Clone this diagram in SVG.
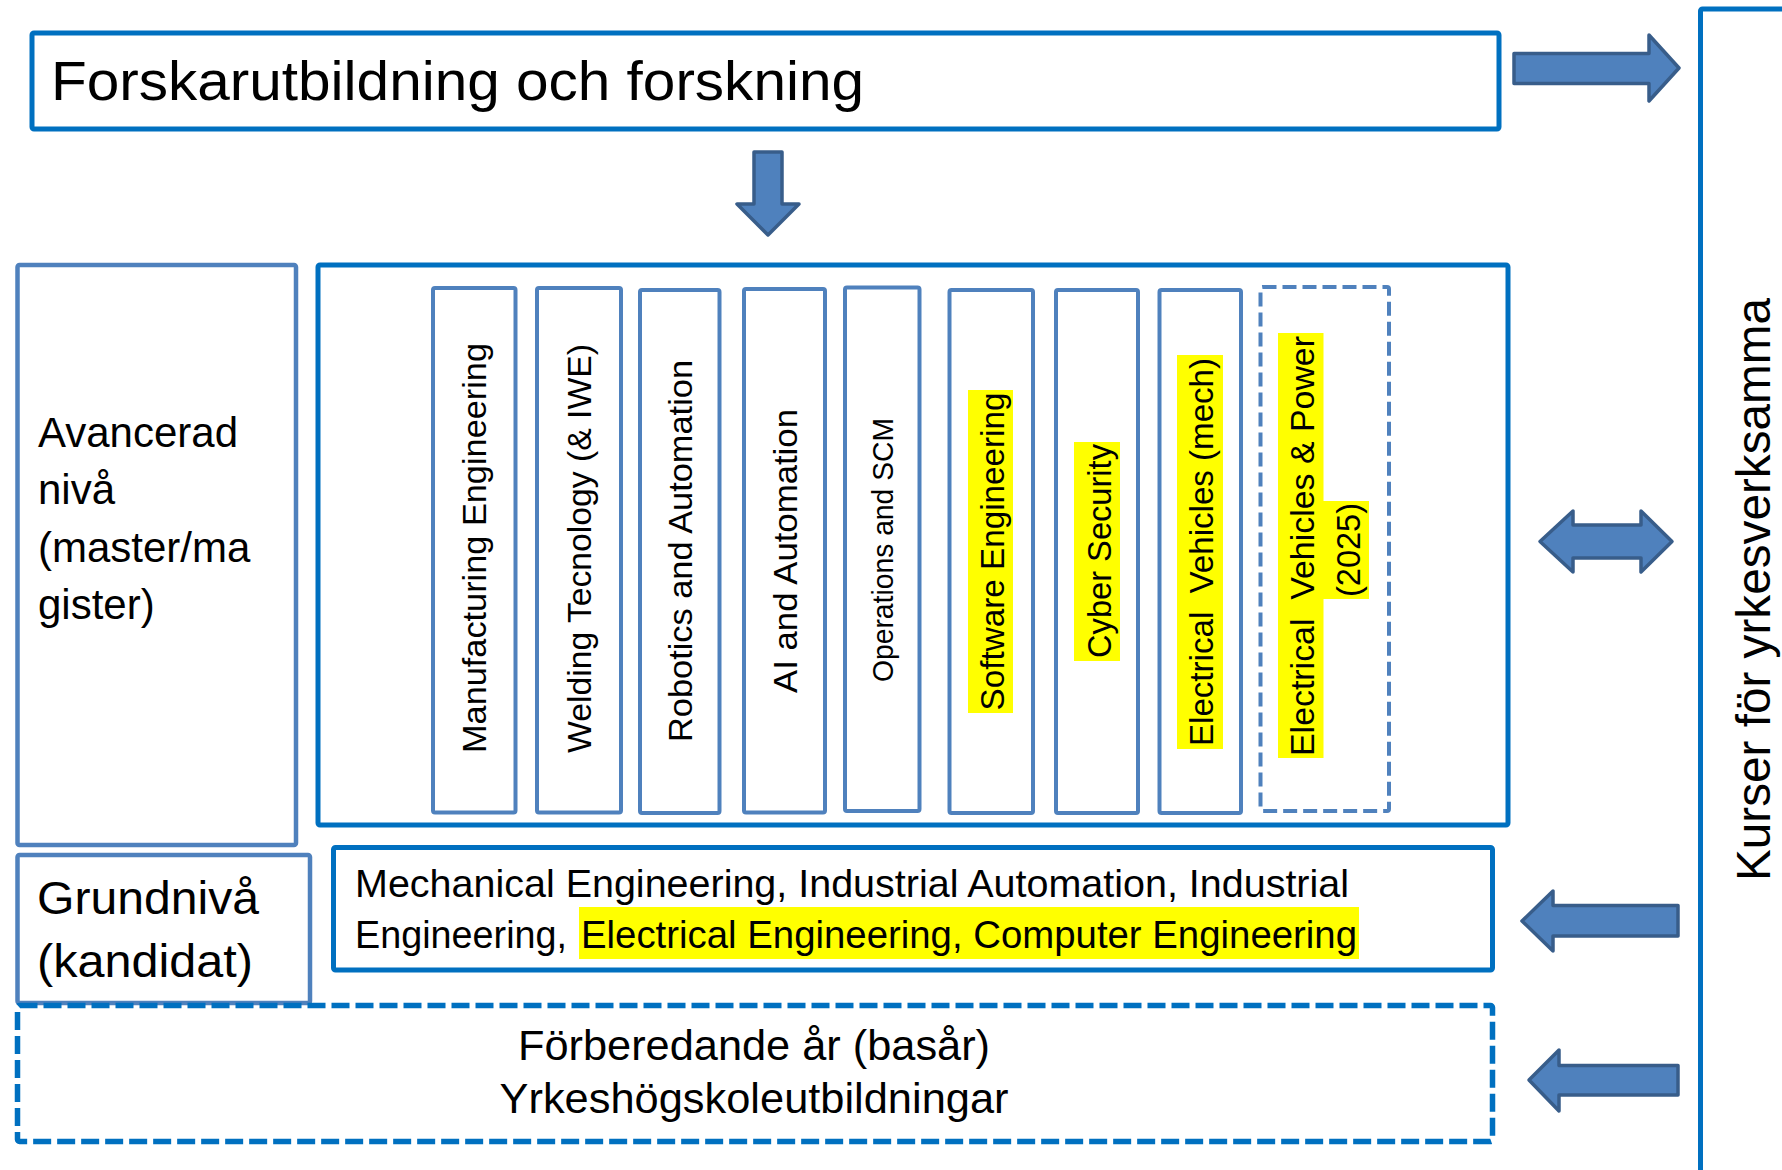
<svg xmlns="http://www.w3.org/2000/svg" width="1782" height="1170" viewBox="0 0 1782 1170">
<style>
text { font-family: "Liberation Sans", Arial, sans-serif; fill: #000; }
.thick { fill: none; stroke: #0070C0; stroke-width: 5; }
.light { fill: none; stroke: #4F81BD; stroke-width: 4.5; }
.col { fill: none; stroke: #4F81BD; stroke-width: 4; }
.dcol { fill: none; stroke: #4F81BD; stroke-width: 4; stroke-dasharray: 14 6; }
.dash { fill: none; stroke: #0070C0; stroke-width: 5.5; stroke-dasharray: 18 6; }
.arrow { fill: #4F81BD; stroke: #385D8A; stroke-width: 3.5; stroke-linejoin: round; }
.hl { fill: #FFFF00; }
.vt { font-size: 34px; text-anchor: middle; white-space: pre; }
</style>
<rect x="0" y="0" width="1782" height="1170" fill="#FFFFFF"/>

<g id="forskning">
  <rect class="thick" x="32" y="33" width="1467" height="96" rx="2"/>
  <text x="51" y="100" font-size="56" textLength="813" lengthAdjust="spacingAndGlyphs">Forskarutbildning och forskning</text>
</g>

<g id="kurser">
  <rect class="thick" x="1700.5" y="9" width="200" height="1300" rx="2"/>
  <text transform="translate(1770,881) rotate(-90)" x="0" y="0" font-size="48" textLength="583" lengthAdjust="spacingAndGlyphs">Kurser för yrkesverksamma</text>
</g>

<g id="avancerad">
  <rect class="light" x="17.5" y="265" width="278.5" height="580" rx="2"/>
  <text font-size="42">
    <tspan x="38" y="447">Avancerad</tspan>
    <tspan x="38" y="504">nivå</tspan>
    <tspan x="38" y="562">(master/ma</tspan>
    <tspan x="38" y="619">gister)</tspan>
  </text>
</g>

<g id="master">
  <rect class="thick" x="318" y="265" width="1190" height="560" rx="2"/>
</g>

<g id="p-manufacturing">
  <rect class="col" x="433" y="288" width="82.5" height="524.5" rx="2"/>
  <text class="vt" transform="translate(486,548) rotate(-90)" textLength="410" lengthAdjust="spacingAndGlyphs">Manufacturing Engineering</text>
</g>
<g id="p-welding">
  <rect class="col" x="537" y="288" width="84" height="524.5" rx="2"/>
  <text class="vt" transform="translate(591,548.5) rotate(-90)" textLength="409" lengthAdjust="spacingAndGlyphs">Welding Tecnology (&amp; IWE)</text>
</g>
<g id="p-robotics">
  <rect class="col" x="640" y="290" width="79.5" height="523" rx="2"/>
  <text class="vt" transform="translate(692,551) rotate(-90)" textLength="382" lengthAdjust="spacingAndGlyphs">Robotics and Automation</text>
</g>
<g id="p-ai">
  <rect class="col" x="744" y="289" width="81" height="523.5" rx="2"/>
  <text class="vt" transform="translate(796.5,551) rotate(-90)" textLength="284" lengthAdjust="spacingAndGlyphs">AI and Automation</text>
</g>
<g id="p-operations">
  <rect class="col" x="845" y="287.5" width="74.5" height="523.5" rx="2"/>
  <text class="vt" style="font-size:29px" transform="translate(893,550) rotate(-90)" textLength="264" lengthAdjust="spacingAndGlyphs">Operations and SCM</text>
</g>
<g id="p-software">
  <rect class="col" x="949.5" y="290" width="83.5" height="523" rx="2"/>
  <rect class="hl" x="968" y="390" width="45" height="323"/>
  <text class="vt" transform="translate(1004,551.5) rotate(-90)" textLength="318" lengthAdjust="spacingAndGlyphs">Software Engineering</text>
</g>
<g id="p-cyber">
  <rect class="col" x="1056" y="290" width="82" height="523" rx="2"/>
  <rect class="hl" x="1074" y="442" width="46" height="219"/>
  <text class="vt" transform="translate(1111,551) rotate(-90)" textLength="214" lengthAdjust="spacingAndGlyphs">Cyber Security</text>
</g>
<g id="p-ev-mech">
  <rect class="col" x="1159.5" y="290" width="81.5" height="523" rx="2"/>
  <rect class="hl" x="1177" y="355" width="46" height="394"/>
  <text class="vt" transform="translate(1213,552) rotate(-90)" textLength="388" lengthAdjust="spacingAndGlyphs" xml:space="preserve">Electrical  Vehicles (mech)</text>
</g>
<g id="p-ev-power">
  <rect class="dcol" x="1260.5" y="287" width="128.5" height="524" rx="2"/>
  <rect class="hl" x="1278" y="333" width="45.5" height="425"/>
  <rect class="hl" x="1323" y="501" width="46" height="98"/>
  <text class="vt" transform="translate(1314,546) rotate(-90)" textLength="420" lengthAdjust="spacingAndGlyphs" xml:space="preserve">Electrical  Vehicles &amp; Power</text>
  <text class="vt" transform="translate(1359.5,550) rotate(-90)" textLength="94" lengthAdjust="spacingAndGlyphs">(2025)</text>
</g>

<g id="grundniva">
  <rect class="light" x="17.5" y="855" width="292.5" height="148" rx="2"/>
  <text x="37" y="914" font-size="47" textLength="222" lengthAdjust="spacingAndGlyphs">Grundnivå</text>
  <text x="37" y="977" font-size="47" textLength="216" lengthAdjust="spacingAndGlyphs">(kandidat)</text>
</g>

<g id="kandidat-program">
  <rect class="thick" x="333.5" y="847.5" width="1159" height="122.5" rx="2"/>
  <rect class="hl" x="579" y="907" width="780" height="52"/>
  <text x="355" y="897" font-size="38.5" textLength="994" lengthAdjust="spacingAndGlyphs">Mechanical Engineering, Industrial Automation, Industrial</text>
  <text x="355" y="948" font-size="38.5" textLength="212" lengthAdjust="spacingAndGlyphs">Engineering,</text>
  <text x="581" y="948" font-size="38.5" textLength="776" lengthAdjust="spacingAndGlyphs">Electrical Engineering, Computer Engineering</text>
</g>

<g id="forberedande">
  <rect class="dash" x="17.5" y="1005.5" width="1475" height="136" rx="2"/>
  <text x="754" y="1060" font-size="43" text-anchor="middle" textLength="472" lengthAdjust="spacingAndGlyphs">Förberedande år (basår)</text>
  <text x="754" y="1113" font-size="43" text-anchor="middle" textLength="509" lengthAdjust="spacingAndGlyphs">Yrkeshögskoleutbildningar</text>
</g>

<g id="connectors">
  <path class="arrow" d="M754,152 L782,152 L782,204 L799,204 L768,235 L737,204 L754,204 Z"/>
  <path class="arrow" d="M1514,53.5 L1649,53.5 L1649,35 L1679,68 L1649,101 L1649,83.5 L1514,83.5 Z"/>
  <path class="arrow" d="M1540,541.5 L1573,511 L1573,525 L1641,525 L1641,511 L1672,541.5 L1641,572 L1641,558 L1573,558 L1573,572 Z"/>
  <path class="arrow" d="M1522,921 L1553,891 L1553,905.5 L1678,905.5 L1678,936 L1553,936 L1553,951 Z"/>
  <path class="arrow" d="M1529,1080 L1559,1050 L1559,1065.5 L1678,1065.5 L1678,1095 L1559,1095 L1559,1111 Z"/>
</g>
</svg>
